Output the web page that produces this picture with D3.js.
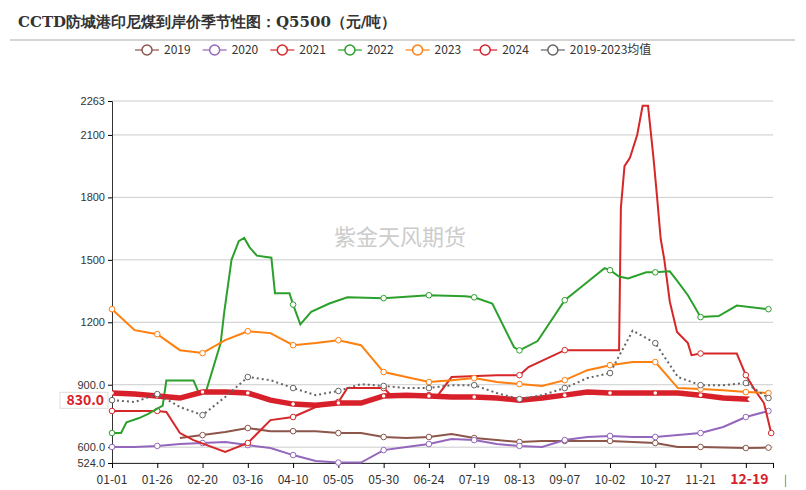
<!DOCTYPE html>
<html><head><meta charset="utf-8">
<script src="https://cdn.jsdelivr.net/npm/d3@7"></script>
<style>body{margin:0;background:#fff}svg{font-family:"Noto Sans CJK SC","Noto Sans",sans-serif}</style>
</head><body><svg id="c" width="806" height="490"></svg>
<script>
const days = [0,12.5,25,37.5,50,62.5,75,87.5,100,112.5,125,137.5,150,162.5,175,187.5,200,212.5,225,237.5,250,262.5,275,287.5,300,312.5,325,337.5,350,362.5];
const tickLabels = ["01-01","01-26","02-20","03-16","04-10","05-05","05-30","06-24","07-19","08-13","09-07","10-02","10-27","11-21","12-19"];
const yTicks = [524,600,900,1200,1500,1800,2100,2263];
const v2019 = [null,null,null,644,658,673,692,677,677,677,668,668,649,644,649,663,644,634,625,630,630,630,630,625,620,601,601,598,596,598];
const v2020 = [601,601,606,615,620,625,610,596,562,534,526,526,586,601,615,639,634,615,606,601,634,649,654,649,649,658,668,697,745,774];
const d2021 = [0,25,30,37.5,45,62.5,75,87.5,100,112.5,125,130,150,155,162.5,175,180,187.5,212.5,225,230,250,280,281,283,286,290,293,296,299,301,303,305,308,312,318,320,325,345,350,355,360,364];
const v2021 = [774,774,769,668,634,577,620,730,745,793,817,884,884,841,841,850,850,937,946,946,985,1066,1066,1750,1950,1990,2100,2240,2240,1990,1800,1600,1500,1300,1153,1100,1042,1050,1050,946,874,812,668];
const d2022 = [0,5,8,15,20,28,30,45,48,52,60,62,66,70,73,76,80,88,90,98,100,104,110,120,130,150,175,195,200,210,222,225,235,250,262,272,275,280,285,295,300,308,312,318,325,335,345,362.5];
const v2022 = [668,668,720,740,760,800,920,920,860,870,1100,1250,1500,1590,1605,1560,1520,1510,1340,1340,1285,1190,1250,1290,1320,1316,1330,1325,1320,1290,1080,1065,1110,1306,1390,1460,1450,1420,1410,1440,1440,1445,1400,1330,1225,1230,1280,1263];
const v2023 = [1263,1162,1143,1066,1052,1114,1157,1148,1090,1100,1114,1090,961,937,913,922,932,913,903,894,922,970,994,1009,1009,884,879,874,865,860];
const d2024 = [0,12.5,25,37.5,50,62.5,75,87.5,100,112.5,125,137.5,150,162.5,175,187.5,200,212.5,225,237.5,250,262.5,275,287.5,300,312.5,325,337.5,352];
const v2024 = [860,855,846,836,865,865,860,826,807,802,812,812,846,850,846,841,841,836,826,836,850,865,860,860,860,860,850,836,830];
const vAvg = [826,817,855,793,754,841,937,922,884,850,870,903,894,884,884,898,898,860,831,850,884,932,956,1160,1100,937,898,898,908,836];

const W=806,H=490,L=112,R=773,T=101,B=463;
const svg=d3.select("#c");
const x=d3.scaleLinear().domain([0,365]).range([L,R]);
const y=d3.scaleLinear().domain([524,2263]).range([B,T]);

svg.append("text").attr("x",18).attr("y",27).attr("font-family","'DejaVu Serif',serif").attr("font-weight","bold").attr("font-size",15).attr("fill","#333").text("CCTD防城港印尼煤到岸价季节性图：Q5500（元/吨）");
svg.append("line").attr("x1",10).attr("x2",795).attr("y1",40).attr("y2",40).attr("stroke","#aaa");
svg.append("text").attr("x",400).attr("y",245).attr("text-anchor","middle").attr("font-size",22).attr("fill","#ccc").text("紫金天风期货");

yTicks.forEach(t=>{
  svg.append("line").attr("x1",L).attr("x2",R).attr("y1",y(t)).attr("y2",y(t)).attr("stroke","#ccc");
});
const yAxis=d3.axisLeft(y).tickValues(yTicks).tickSize(4).tickFormat(d=>d<1000?d.toFixed(1):d);
const ga=svg.append("g").attr("transform",`translate(${L},0)`).call(yAxis);
ga.selectAll("text").attr("font-size",11).attr("fill","#333");
ga.select(".domain").attr("stroke","#333");
const xAxis=d3.axisBottom(x).tickValues(d3.range(0,366,25).concat([365])).tickSize(5).tickFormat(()=> "");
const gx=svg.append("g").attr("transform",`translate(0,${B})`).call(xAxis);
gx.select(".domain").attr("stroke","#333");
tickLabels.forEach((t,i)=>{
  const d=i<14?i*25:352;
  svg.append("text").attr("x",x(d)).attr("y",B+21).attr("text-anchor","middle").attr("font-size",i<14?12:14)
    .attr("font-weight",i<14?"normal":"bold").attr("fill",i<14?"#333":"#d8202a").text(t);
});
svg.append("text").attr("x",784).attr("y",B+21).attr("font-size",11).attr("fill","#666").text("|");

const line=d3.line().defined(d=>d[1]!=null).x(d=>x(d[0])).y(d=>y(d[1]));
const series=[
 {n:"2019",c:"#8c564b",d:days,v:v2019,w:2},
 {n:"2020",c:"#9467bd",d:days,v:v2020,w:2},
 {n:"2021",c:"#d62728",d:d2021,v:v2021,w:2},
 {n:"2022",c:"#2ca02c",d:d2022,v:v2022,w:2},
 {n:"2023",c:"#ff7f0e",d:days,v:v2023,w:2},
 {n:"2024",c:"#d8202a",d:d2024,v:v2024,w:5.5},
 {n:"2019-2023均值",c:"#666",d:days,v:vAvg,w:2,dash:"2,3"}
];
series.forEach(s=>{
  const pts=s.d.map((d,i)=>[d,s.v[i]]);
  svg.append("path").datum(pts).attr("d",line).attr("fill","none").attr("stroke",s.c).attr("stroke-width",s.w).attr("stroke-dasharray",s.dash||null);
  svg.selectAll(null).data(pts.filter(p=>p[1]!=null&&(p[0]%25===0||p[0]===s.d[s.d.length-1]))).enter().append("circle")
    .attr("cx",p=>x(p[0])).attr("cy",p=>y(p[1])).attr("r",s.n==="2024"?1.8:2.8).attr("fill","#fff").attr("stroke",s.n==="2024"?"none":s.c).attr("stroke-width",1);
});
svg.append("rect").attr("x",60).attr("y",y(830)-7).attr("width",48).attr("height",16).attr("fill","#fff").attr("stroke","#ddd");
svg.append("text").attr("x",104).attr("y",y(830)+6).attr("text-anchor","end").attr("font-size",14).attr("font-weight","bold").attr("fill","#d8202a").text("830.0");

let lx=135;
series.forEach(s=>{
  const g=svg.append("g").attr("transform",`translate(${lx},50)`);
  g.append("line").attr("x1",0).attr("x2",24).attr("stroke",s.c).attr("stroke-width",1.5).attr("opacity",0.8);
  g.append("circle").attr("cx",12).attr("r",5).attr("fill","#fff").attr("stroke",s.c).attr("stroke-width",1.5);
  const t=g.append("text").attr("x",29).attr("y",4).attr("font-size",12).attr("fill","#333").text(s.n);
  lx+=29+t.node().getComputedTextLength()+12;
});
</script></body></html>
